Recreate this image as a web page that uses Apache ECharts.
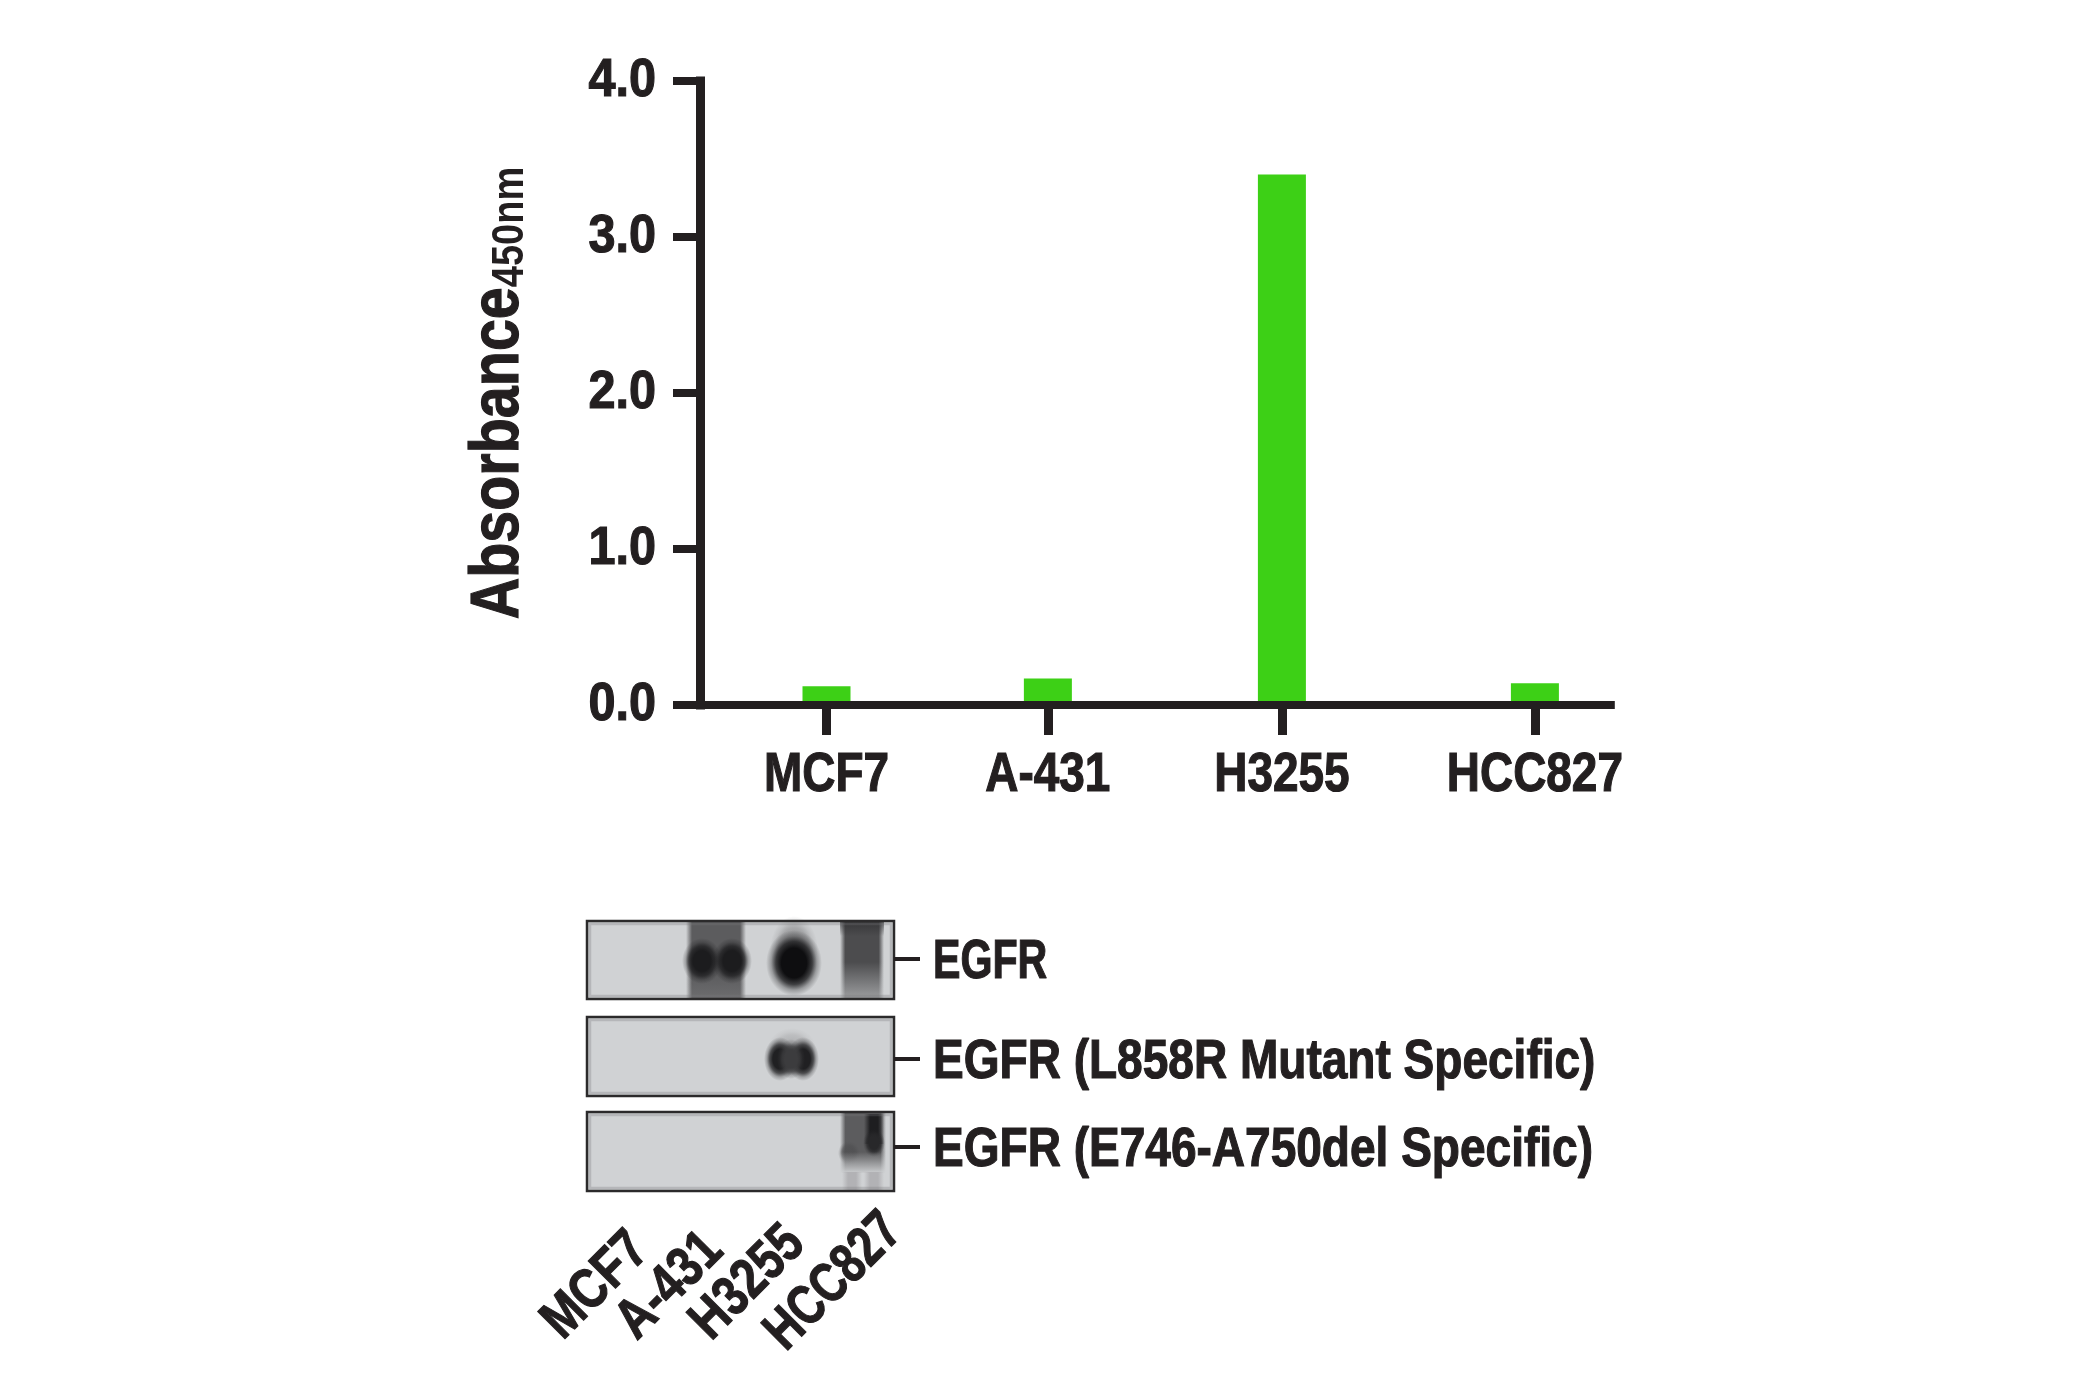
<!DOCTYPE html>
<html><head><meta charset="utf-8">
<style>html,body{margin:0;padding:0;background:#fff}#c{width:2080px;height:1400px}</style>
<script src="https://cdn.jsdelivr.net/npm/echarts@6/dist/echarts.min.js"></script>
</head><body><div id="c"></div>
<script>
const cellLines = ['MCF7', 'A-431', 'H3255', 'HCC827'];
const absorbance = [0.12, 0.17, 3.4, 0.14];
const yTickMax = 4;
const blotNames = ['EGFR', 'EGFR (L858R Mutant Specific)', 'EGFR (E746-A750del Specific)'];

const INK = '#231f20', GREEN = '#3dd016';
const FONT = '"Liberation Sans",Arial,sans-serif';
// The four samples sit at uneven spacing in the figure: blank slots on the axis reproduce that.
const slotOf = [20, 55, 92, 132], slotCount = 145;
const axisCats = Array.from({length: slotCount}, () => '');
const barData = Array.from({length: slotCount}, () => null);
cellLines.forEach((n, i) => { axisCats[slotOf[i]] = n; barData[slotOf[i]] = absorbance[i]; });

function rgba(rgb, a) { return `rgba(${rgb},${a})`; }
// soft blurred spot: a unit circle stretched by the element transform so the radial gradient stays elliptical
function blob(cx, cy, rx, ry, rgb, a) {
  a = a === undefined ? 1 : a;
  return {type: 'circle', x: cx, y: cy, scaleX: rx / 100, scaleY: ry / 100, shape: {cx: 0, cy: 0, r: 100}, silent: true,
    style: {fill: new echarts.graphic.RadialGradient(0.5, 0.5, 0.5, [
      {offset: 0, color: rgba(rgb, a)}, {offset: 0.45, color: rgba(rgb, a)},
      {offset: 0.65, color: rgba(rgb, a * 0.75)}, {offset: 0.82, color: rgba(rgb, a * 0.28)},
      {offset: 1, color: rgba(rgb, 0)}])}};
}
function hband(x, y, w, h, rgb, fade) {
  return {type: 'rect', shape: {x, y, width: w, height: h}, silent: true,
    style: {fill: new echarts.graphic.LinearGradient(0, 0, 1, 0, [
      {offset: 0, color: rgba(rgb, 0)}, {offset: fade, color: rgba(rgb, 1)},
      {offset: 1 - fade, color: rgba(rgb, 1)}, {offset: 1, color: rgba(rgb, 0)}])}};
}
function vband(x, y, w, h, rgb, a0, a1) {
  return {type: 'rect', shape: {x, y, width: w, height: h}, silent: true,
    style: {fill: new echarts.graphic.LinearGradient(0, 0, 0, 1, [
      {offset: 0, color: rgba(rgb, a0)}, {offset: 1, color: rgba(rgb, a1)}])}};
}
const BGRGB = '208,210,212', BG = `rgb(${BGRGB})`;
const X0 = 587, X1 = 894, W = X1 - X0;
const blotTops = [921, 1017, 1112], blotH = [78, 79, 79];
const els = [];
blotTops.forEach((t, i) => {
  els.push({type: 'rect', shape: {x: X0, y: t, width: W, height: blotH[i]}, silent: true, style: {fill: BG}});
});
// blot 1: A-431
els.push(hband(686, 922, 60, 76, '92,92,94', 0.1));
els.push(vband(686, 975, 60, 23, BGRGB, 0, 0.14));
els.push(blob(702, 961, 20, 23, '28,28,30'));
els.push(blob(732, 961, 20, 23, '28,28,30'));
// blot 1: H3255
els.push(blob(794, 950, 24, 34, '130,130,132', 0.7));
els.push(blob(794, 963, 28, 33, '14,14,16'));
// blot 1: HCC827
els.push(hband(840, 922, 44, 76, '76,76,78', 0.12));
els.push(vband(840, 922, 44, 14, '40,40,42', 0.6, 0));
els.push(vband(840, 962, 44, 36, BGRGB, 0, 0.6));
// blot 2: H3255
els.push(blob(792, 1048, 24, 20, '150,150,152', 0.45));
els.push(blob(780, 1059, 16, 22, '32,32,34'));
els.push(blob(803, 1059, 16, 22, '32,32,34'));
els.push(blob(791, 1059, 14, 20, '60,60,62'));
// blot 3: HCC827
els.push(hband(840, 1113, 46, 60, '92,92,94', 0.12));
els.push(hband(864, 1114, 20, 30, '30,30,32', 0.3));
els.push(blob(874, 1143, 11, 14, '40,40,42'));
els.push(blob(849, 1153, 11, 12, '80,80,82', 0.8));
els.push(vband(840, 1152, 46, 22, BGRGB, 0, 1));
els.push(hband(842, 1172, 20, 18, '178,178,181', 0.3));
els.push(hband(864, 1172, 20, 18, '178,178,181', 0.3));

// frames, leader ticks, names
const leaderY = [959, 1059, 1147];
const nameScale = [0.735, 0.822, 0.822];
blotTops.forEach((t, i) => {
  els.push({type: 'rect', shape: {x: X0 + 3, y: t + 3, width: W - 6, height: blotH[i] - 6}, silent: true, style: {fill: 'none', stroke: 'rgba(120,120,122,0.3)', lineWidth: 2.5}});
  els.push({type: 'rect', shape: {x: X0, y: t, width: W, height: blotH[i]}, silent: true, style: {fill: 'none', stroke: '#2b2a2b', lineWidth: 2.5}});
  els.push({type: 'line', shape: {x1: X1, y1: leaderY[i], x2: X1 + 26, y2: leaderY[i]}, silent: true, style: {stroke: INK, lineWidth: 4}});
  els.push({type: 'text', x: 933, y: leaderY[i] + 4, scaleX: nameScale[i], silent: true,
    style: {text: blotNames[i], font: `bold 56px ${FONT}`, fill: INK, stroke: INK, lineWidth: 1.2, align: 'left', verticalAlign: 'middle'}});
});
const rotatedCenters = [[596, 1286], [670, 1286], [748, 1283], [834, 1282]];
const rotatedScale = [0.82, 0.82, 0.82, 0.78];
cellLines.forEach((n, i) => {
  els.push({type: 'text', x: rotatedCenters[i][0], y: rotatedCenters[i][1], rotation: Math.PI / 4, scaleX: rotatedScale[i], silent: true,
    style: {text: n, font: `bold 56px ${FONT}`, fill: INK, stroke: INK, lineWidth: 1.2, align: 'center', verticalAlign: 'middle'}});
});

const chart = echarts.init(document.getElementById('c'), null, {renderer: 'canvas'});
chart.setOption({
  animation: false,
  backgroundColor: '#fff',
  grid: {left: 700, top: 81, width: 6.325 * (slotCount - 1), height: 624, containLabel: false},
  xAxis: {
    type: 'category', data: axisCats, boundaryGap: false, z: 5,
    axisLine: {onZero: false, lineStyle: {color: INK, width: 8, cap: 'square'}},
    axisTick: {length: 30, alignWithLabel: true, interval: (i) => axisCats[i] !== '', lineStyle: {color: INK, width: 9}},
    axisLabel: {interval: 0, margin: 43, color: INK, fontFamily: FONT, fontWeight: 'bold', fontSize: 56, hideOverlap: false,
      textBorderColor: INK, textBorderWidth: 1.2},
    splitLine: {show: false}
  },
  yAxis: {
    type: 'value', min: 0, max: yTickMax, interval: 1, z: 5,
    axisLine: {show: true, lineStyle: {color: INK, width: 9, cap: 'square'}},
    axisTick: {show: true, length: 27, lineStyle: {color: INK, width: 8}},
    axisLabel: {margin: 44, color: INK, fontFamily: FONT, fontWeight: 'bold', fontSize: 54, formatter: v => v.toFixed(1),
      textBorderColor: INK, textBorderWidth: 1.2},
    splitLine: {show: false},
    name: '{a|Absorbance}{b|450nm}', nameLocation: 'middle', nameGap: 167, nameRotate: 90,
    nameTextStyle: {rich: {
      a: {fontFamily: FONT, fontWeight: 'bold', fontSize: 68, color: INK, textBorderColor: INK, textBorderWidth: 1.2},
      b: {fontFamily: FONT, fontWeight: 'bold', fontSize: 45, color: INK, verticalAlign: 'bottom'}
    }}
  },
  series: [{type: 'bar', data: barData, barWidth: 48, itemStyle: {color: GREEN}, z: 1}],
  graphic: {elements: els}
});

// No condensed face is installed: squeeze the library's axis texts horizontally about their own anchor.
const zr = chart.getZr();
zr.storage.traverse(el => {
  if (el.type !== 'text' || !el.style || el.scaleX !== 1) return;
  const t = String(el.style.text || '');
  let s = 0;
  if (/^\d\.\d$/.test(t)) s = 0.9;
  else if (cellLines.includes(t)) s = 0.82;
  else if (t.includes('Absorbance')) s = 0.845;
  if (s) { el.scaleX = s; el.markRedraw(); }
});
zr.refreshImmediately();
</script></body></html>
